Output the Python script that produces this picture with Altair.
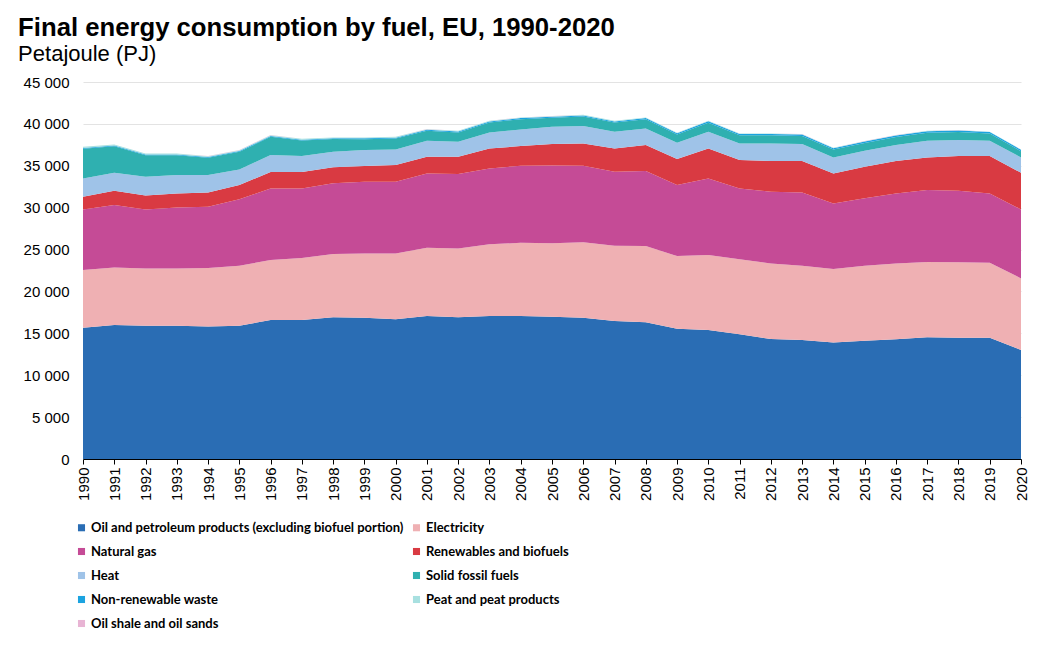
import altair as alt
import pandas as pd

years = list(range(1990, 2021))

fuels = [
    "Oil and petroleum products (excluding biofuel portion)",
    "Electricity",
    "Natural gas",
    "Renewables and biofuels",
    "Heat",
    "Solid fossil fuels",
    "Non-renewable waste",
    "Peat and peat products",
    "Oil shale and oil sands",
]
colors = ["#2a6db4", "#efb0b3", "#c54b96", "#d93a42", "#9fc3e8",
          "#2fb0b0", "#1ba3e0", "#a8e0e0", "#e8b4d4"]

oil = [15670, 15990, 15910, 15910, 15830, 15910, 16590, 16590, 16910, 16870, 16670,
       17060, 16910, 17060, 17060, 16980, 16870, 16470, 16310, 15550, 15390,
       14880, 14320, 14200, 13920, 14120, 14280, 14520, 14480, 14480, 13010]
electricity = [6880, 6880, 6840, 6840, 6960, 7160, 7160, 7400, 7550, 7670, 7870,
               8160, 8230, 8560, 8750, 8760, 8990, 8990, 9110, 8670, 8950,
               8950, 9030, 8870, 8750, 8950, 9070, 8990, 8990, 8950, 8550]
natural_gas = [7240, 7440, 7040, 7280, 7320, 7920, 8550, 8310, 8440, 8550, 8550,
               8870, 8870, 9070, 9190, 9300, 9140, 8830, 8950, 8480, 9150,
               8470, 8550, 8750, 7840, 8040, 8350, 8590, 8550, 8270, 8230]
renewables = [1510, 1710, 1670, 1670, 1710, 1710, 1950, 1950, 1910, 1870, 1990,
              1990, 2070, 2380, 2350, 2550, 2670, 2780, 3100, 3100, 3580,
              3380, 3660, 3740, 3580, 3770, 3860, 3900, 4140, 4460, 4380]
heat = [2190, 2150, 2230, 2190, 2070, 1870, 2030, 1910, 1860, 1910, 1870,
        1910, 1790, 1910, 1990, 2070, 2070, 1990, 1990, 1950, 1990,
        1990, 2110, 2030, 1910, 1910, 1910, 1990, 1910, 1830, 1830]
solid = [3550, 3160, 2580, 2380, 2060, 2090, 2170, 1860, 1520, 1310, 1300,
         1190, 1100, 1180, 1220, 1060, 1130, 1100, 1090, 980, 1090,
         970, 970, 960, 930, 940, 960, 960, 970, 850, 740]
waste = [80, 80, 80, 90, 90, 90, 100, 100, 100, 110, 110,
         110, 120, 120, 130, 130, 140, 140, 150, 150, 160,
         160, 160, 170, 170, 170, 180, 180, 180, 180, 170]
peat = [140, 130, 120, 110, 110, 110, 100, 100, 90, 90, 90,
        80, 80, 80, 70, 70, 70, 60, 60, 50, 50,
        50, 50, 50, 40, 40, 40, 40, 30, 30, 30]
oil_shale = [10] * 31

series = [oil, electricity, natural_gas, renewables, heat, solid, waste, peat, oil_shale]

rows = []
for i, (name, vals) in enumerate(zip(fuels, series)):
    for y, v in zip(years, vals):
        rows.append({"year": y, "fuel": name, "value": v, "idx": i})
df = pd.DataFrame(rows)

FONT = "Liberation Sans"

chart = alt.Chart(df).mark_area(strokeWidth=0).encode(
    x=alt.X("year:Q",
            scale=alt.Scale(domain=[1990, 2020], nice=False, zero=False),
            axis=alt.Axis(values=years, format="d", labelAngle=270, title=None,
                          grid=False, domainColor="#000", tickColor="#000",
                          tickSize=5, labelFontSize=15, labelFont=FONT,
                          labelColor="#000", labelPadding=3, labelAlign="right",
                          labelBaseline="middle")),
    y=alt.Y("value:Q", stack="zero",
            scale=alt.Scale(domain=[0, 45000], nice=False),
            axis=alt.Axis(values=list(range(0, 45001, 5000)), title=None,
                          domain=False, ticks=False, gridColor="#e3e3e3",
                          labelFontSize=15, labelFont=FONT, labelColor="#000",
                          labelPadding=14,
                          labelExpr="datum.value >= 1000 ? floor(datum.value / 1000) + ' 000' : '0'")),
    color=alt.Color("fuel:N",
                    scale=alt.Scale(domain=fuels, range=colors),
                    legend=alt.Legend(title=None, orient="none", legendX=-8, legendY=439,
                                      direction="horizontal",
                                      columns=2, columnPadding=6, rowPadding=10,
                                      symbolType="square", symbolSize=50,
                                      symbolStrokeWidth=0, labelOffset=3,
                                      labelFont="Lato", labelFontSize=13,
                                      labelFontWeight="bold", labelColor="#000",
                                      labelLimit=400)),
    order=alt.Order("idx:Q", sort="ascending"),
).properties(
    width=938,
    height=377,
    padding={"left": 75, "top": 74, "right": 8, "bottom": 175},
    autosize=alt.AutoSizeParams(type="none"),
    title=alt.TitleParams(
        text="Final energy consumption by fuel, EU, 1990-2020",
        subtitle="Petajoule (PJ)",
        anchor="start", dx=-5, offset=9,
        font=FONT, fontSize=25.7, fontWeight="bold", color="#000",
        subtitleFont=FONT, subtitleFontSize=22, subtitleColor="#000",
        subtitlePadding=2,
    ),
).configure_view(stroke=None)

chart.save("out.html", embed_options={"renderer": "svg", "actions": False})
